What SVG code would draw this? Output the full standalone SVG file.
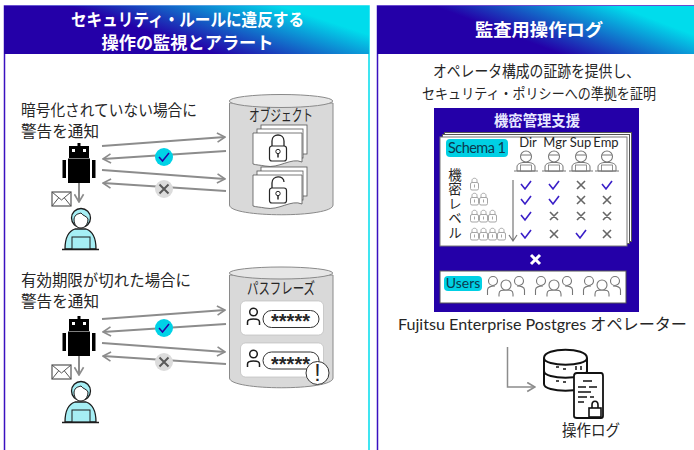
<svg xmlns="http://www.w3.org/2000/svg" width="694" height="450" viewBox="0 0 694 450">
<style>
text{font-family:"Noto Sans CJK JP","Noto Sans",sans-serif;fill:#262626}
.hd{font-size:17.500px;font-weight:700;fill:#fff;text-anchor:middle}
.t{font-size:15.500px}
.m{text-anchor:middle}
.lat{font-family:"Lato","Noto Sans CJK JP",sans-serif}
.conn{fill:none;stroke:#8c8c8c;stroke-width:2}
.lk{fill:#fff;stroke:#262626;stroke-width:1.2}
.glk{fill:#fff;stroke:#a6a6a6;stroke-width:1}
.pg{fill:#fff;stroke:#555;stroke-width:.8}
.ck{fill:none;stroke:#3a1fc8;stroke-width:1.6}
.xx{fill:none;stroke:#666;stroke-width:1.6}
.gp{fill:#fff;stroke:#777;stroke-width:1.1}
.star{font-family:"Liberation Sans",sans-serif;font-size:20px;font-weight:700;text-anchor:middle}
</style>
<defs>
<linearGradient id="hg" x1="0" y1="1" x2="1" y2="0.6"><stop offset="0" stop-color="#2400a8"/><stop offset="0.5" stop-color="#2400a8"/><stop offset="1" stop-color="#00dcec"/></linearGradient>
<linearGradient id="bl" gradientUnits="userSpaceOnUse" x1="4" y1="0" x2="369" y2="0"><stop offset="0" stop-color="#3a10c0"/><stop offset="1" stop-color="#00dcec"/></linearGradient>
<marker id="ah" viewBox="0 0 12 12" refX="10.500" refY="6" markerWidth="11" markerHeight="11" markerUnits="userSpaceOnUse" orient="auto"><path d="M2 1L10.500 6L2 11" fill="none" stroke="#8c8c8c" stroke-width="1.800"/></marker>
<g id="robot">
<rect x="77.500" y="143" width="3" height="4" fill="#000"/>
<rect x="69" y="146" width="20" height="12" fill="#000"/>
<rect x="72" y="149" width="3" height="3" fill="#fff"/><rect x="83" y="149" width="3" height="3" fill="#fff"/>
<rect x="68" y="158.500" width="22" height="24.500" fill="#000"/>
<rect x="62.500" y="160" width="3.500" height="18" fill="#000"/><rect x="92" y="160" width="3.500" height="18" fill="#000"/>
</g>
<g id="mail"><rect x="52" y="192" width="19" height="14" fill="#fff" stroke="#555" stroke-width="1.200"/><path d="M52 192L61.500 200L71 192M52 206L58.500 198M71 206L64.500 198" fill="none" stroke="#555"/></g>
<g id="op">
<path d="M65 249C65 236 69 231 75 229L86 229C92 231 96 236 96 249Z" fill="#a6eef4" stroke="#1c1c1c" stroke-width="1.300"/>
<circle cx="81" cy="218" r="9.500" fill="#a6eef4" stroke="#1c1c1c" stroke-width="1.300"/>
<path d="M74 219C75 214 78 214 81 213C83 216 87 216 88 219C88 225 84 228 81 228C77 228 74 225 74 219Z" fill="#fff" stroke="#1c1c1c"/>
<rect x="72" y="237" width="18" height="12" fill="#a6eef4" stroke="#1c1c1c"/>
<path d="M62 249.500H99" stroke="#1c1c1c" stroke-width="1.500"/>
</g>
<g id="ok"><circle r="9" fill="#00d2e6"/><path d="M-5 0L-1.500 4L5 -4" fill="none" stroke="#2400a8" stroke-width="1.500"/></g>
<g id="ng"><circle r="9" fill="#dcdcdc"/><path d="M-4.500 -4.500L4.500 4.500M4.500 -4.500L-4.500 4.500" fill="none" stroke="#595959" stroke-width="2"/></g>
<g id="doc">
<rect x="8" y="-8" width="46" height="29" class="pg"/><rect x="4" y="-4" width="46" height="29" class="pg"/>
<path d="M0 0H49V29C38 24 26 36 12 33C7 32 3 32 0 31Z" class="pg"/>
</g>
<g id="lockc"><path d="M-6 -3V-8C-6 -16 6 -16 6 -8V-3" fill="none" stroke="#262626" stroke-width="1.300"/><rect x="-8.500" y="-3" width="17" height="15" rx="2.500" class="lk"/><circle cy="2.500" r="2.200" fill="none" stroke="#262626"/><path d="M0 4.500V8.500" stroke="#262626" stroke-width="1.500"/></g>
<g id="locko"><path d="M-6 -3V-8C-6 -16 6 -16 6 -9" fill="none" stroke="#262626" stroke-width="1.300"/><rect x="-8.500" y="-3" width="17" height="15" rx="2.500" class="lk"/><circle cy="2.500" r="2.200" fill="none" stroke="#262626"/><path d="M0 4.500V8.500" stroke="#262626" stroke-width="1.500"/></g>
<g id="usr"><circle cx="0" cy="-5" r="3.800" fill="none" stroke="#1c1c1c" stroke-width="1.500"/><path d="M-6 8V5C-6 1 6 1 6 5V8" fill="none" stroke="#1c1c1c" stroke-width="1.500"/></g>
<g id="gl"><path d="M-2.500 -1.500V-3.500C-2.500 -6.500 2.500 -6.500 2.500 -3.500V-1.500" fill="none" stroke="#a6a6a6"/><rect x="-4" y="-1.500" width="8" height="7.500" rx="1.500" class="glk"/><path d="M0 0.500V3.500" stroke="#a6a6a6"/></g>
<g id="cp">
<path d="M-9 21V17C-9 14 -6 13 -3 12.500H3C6 13 9 14 9 17V21Z" fill="#fff" stroke="#777" stroke-width="1"/>
<circle cy="6.500" r="5.500" fill="#fff" stroke="#777" stroke-width="1.100"/>
<path d="M-5 5H5" stroke="#777"/>
<rect x="-5.500" y="15" width="11" height="6" fill="#fff" stroke="#777" stroke-width=".8"/>
<path d="M-12 21H12" stroke="#777"/>
</g>
<g id="crowd">
<g class="gp"><circle cx="-13" cy="-6" r="4.500"/><circle cx="13" cy="-6" r="4.500"/><path fill="none" d="M-18.500 8V3C-18.500 0 -15 -1 -11 -1M18.500 8V3C18.500 0 15 -1 11 -1"/><path d="M-7 9.500V7C-7 3 -4 3 0 3C4 3 7 3 7 7V9.500"/><circle cx="0" cy="-2" r="5"/></g>
</g>
</defs>

<g id="panel-left">
<rect x="4.500" y="6" width="364.500" height="460" fill="#fff" stroke="url(#bl)" stroke-width="1.500"/>
<rect x="4" y="6" width="365" height="48" fill="url(#hg)"/>
<text class="hd" x="187.500" y="26" textLength="233" lengthAdjust="spacingAndGlyphs">セキュリティ・ルールに違反する</text>
<text class="hd" x="187.500" y="49" textLength="172" lengthAdjust="spacingAndGlyphs">操作の監視とアラート</text>
</g>
<g id="panel-right">
<rect x="377.500" y="6" width="330" height="460" fill="#fff" stroke="#3a10c0" stroke-width="1.500"/>
<rect x="377" y="6" width="317" height="48" fill="url(#hg)"/>
<text class="hd" x="539" y="36" textLength="128" lengthAdjust="spacingAndGlyphs">監査用操作ログ</text>
<text class="t m" x="536.500" y="77" textLength="207" lengthAdjust="spacingAndGlyphs">オペレータ構成の証跡を提供し、</text>
<text class="m" x="539" y="99" font-size="14.500" textLength="234" lengthAdjust="spacingAndGlyphs">セキュリティ・ポリシーへの準拠を証明</text>
</g>
<g id="label-encrypt">
<text class="t" x="21" y="116" textLength="176" lengthAdjust="spacingAndGlyphs">暗号化されていない場合に</text>
<text class="t" x="21" y="137" textLength="78" lengthAdjust="spacingAndGlyphs">警告を通知</text>
</g>
<g id="db-objects">
<path d="M229.500 103V205C229.500 218 333 218 333 205V103Z" fill="#d9d9d9" stroke="#8a8a8a"/>
<ellipse cx="281" cy="101" rx="51.700" ry="6.500" fill="#e6e6e6" stroke="#8a8a8a"/>
<text class="m" x="281" y="121" font-size="15.500" textLength="64" lengthAdjust="spacingAndGlyphs">オブジェクト</text>
<use href="#doc" x="253" y="133"/><use href="#lockc" x="278" y="149"/>
<use href="#doc" x="253" y="175"/><use href="#locko" x="278" y="191"/>
</g>
<g id="robot-1"><use href="#robot"/></g>
<g id="mail-1"><use href="#mail"/></g>
<g id="operator-1"><use href="#op"/></g>

<g id="label-expiry">
<text class="t" x="21" y="286" textLength="170" lengthAdjust="spacingAndGlyphs">有効期限が切れた場合に</text>
<text class="t" x="21" y="307" textLength="78" lengthAdjust="spacingAndGlyphs">警告を通知</text>
</g>
<g id="db-pass">
<path d="M229.500 275V378C229.500 391 333 391 333 378V275Z" fill="#d9d9d9" stroke="#8a8a8a"/>
<ellipse cx="281" cy="273" rx="51.700" ry="6" fill="#e6e6e6" stroke="#8a8a8a"/>
<text class="m" x="281" y="294" font-size="15.500" textLength="68" lengthAdjust="spacingAndGlyphs">パスフレーズ</text>
<rect x="240.500" y="301" width="83" height="34" rx="5" fill="#fff" stroke="#bbb" stroke-width=".7"/>
<use href="#usr" x="253.500" y="317"/>
<rect x="263" y="310.500" width="56" height="17" rx="8.500" fill="#fff" stroke="#333"/>
<text class="star" x="290.500" y="328">*****</text>
<rect x="240.500" y="343" width="83" height="34" rx="5" fill="#fff" stroke="#bbb" stroke-width=".7"/>
<use href="#usr" x="253.500" y="359"/>
<rect x="263" y="352" width="56" height="17" rx="8.500" fill="#fff" stroke="#333"/>
<text class="star" x="290.500" y="371">*****</text>
<circle cx="317.500" cy="373" r="11.500" fill="#fff" stroke="#333"/>
<text class="m" x="317.500" y="381" font-size="23" style="font-family:'Liberation Sans',sans-serif">!</text>
</g>
<g id="robot-2"><use href="#robot" y="173"/></g>
<g id="mail-2"><use href="#mail" y="173"/></g>
<g id="operator-2"><use href="#op" y="173"/></g>

<g id="connectors">
<path class="conn" marker-end="url(#ah)" d="M102 146L225 137"/>
<path class="conn" marker-end="url(#ah)" d="M226 151L103 159"/>
<path class="conn" marker-end="url(#ah)" d="M102 170L225 179"/>
<path class="conn" marker-end="url(#ah)" d="M226 191L103 183"/>
<path class="conn" marker-end="url(#ah)" d="M79 183V202"/>
<path class="conn" marker-end="url(#ah)" d="M102 319L225 310"/>
<path class="conn" marker-end="url(#ah)" d="M226 324L103 332"/>
<path class="conn" marker-end="url(#ah)" d="M102 343L225 352"/>
<path class="conn" marker-end="url(#ah)" d="M226 364L103 356"/>
<path class="conn" marker-end="url(#ah)" d="M79 356V375"/>
<path class="conn" marker-end="url(#ah)" d="M507.500 347V387H535" style="stroke-width:1.500"/>
</g>
<g id="status-1"><use href="#ok" x="164" y="157"/><use href="#ng" x="164" y="189"/></g>
<g id="status-2"><use href="#ok" x="164" y="328"/><use href="#ng" x="164" y="362"/></g>

<g id="matrix">
<rect x="434" y="108" width="205" height="204" fill="#2400a8"/>
<text class="m" x="537" y="126" font-size="14.500" font-weight="700" style="fill:#e8e8ff" textLength="86" lengthAdjust="spacingAndGlyphs">機密管理支援</text>
<rect x="444.500" y="132.500" width="187" height="109" fill="#fff" stroke="#555"/>
<rect x="442.500" y="134.500" width="187" height="109" fill="#fff" stroke="#555"/>
<rect x="440" y="137" width="187" height="109" fill="#fff" stroke="#777"/>
<rect x="446" y="139" width="62" height="18" rx="4" fill="#00d0e4"/>
<text class="lat" x="448" y="153" font-size="14.500" style="fill:#0b3a50" textLength="58" lengthAdjust="spacing">Schema 1</text>
<g font-size="13" text-anchor="middle"><text class="lat" x="528" y="147">Dir</text><text class="lat" x="555" y="147">Mgr</text><text class="lat" x="580.500" y="147">Sup</text><text class="lat" x="606" y="147">Emp</text></g>
<use href="#cp" x="526" y="150"/><use href="#cp" x="554" y="150"/><use href="#cp" x="581" y="150"/><use href="#cp" x="607" y="150"/>
<text font-size="13.500" x="455" y="168" letter-spacing="1" style="writing-mode:vertical-rl">機密レベル</text>
<use href="#gl" x="474.500" y="184"/>
<use href="#gl" x="474.500" y="199"/><use href="#gl" x="483.500" y="199"/>
<use href="#gl" x="474.500" y="216"/><use href="#gl" x="483.500" y="216"/><use href="#gl" x="492.500" y="216"/>
<use href="#gl" x="474.500" y="234"/><use href="#gl" x="483.500" y="234"/><use href="#gl" x="492.500" y="234"/><use href="#gl" x="501.500" y="234"/>
<path d="M513 180V240M509 235L513 241L517 235" fill="none" stroke="#777" stroke-width="1.200"/>
<g>
<path class="ck" d="M521 184L525 189L531 181M549 184L553 189L559 181M602 184L606 189L612 181"/>
<path class="ck" d="M521 199L525 204L531 196M549 199L553 204L559 196"/>
<path class="ck" d="M521 215L525 220L531 212"/>
<path class="ck" d="M521 233L525 238L531 230M576 233L580 238L586 230"/>
<path class="xx" d="M577 181L585 189M585 181L577 189M577 196L585 204M585 196L577 204M603 196L611 204M611 196L603 204"/>
<path class="xx" d="M550 212L558 220M558 212L550 220M577 212L585 220M585 212L577 220M603 212L611 220M611 212L603 220"/>
<path class="xx" d="M550 230L558 238M558 230L550 238M603 230L611 238M611 230L603 238"/>
</g>
<path d="M531 255L540 264M540 255L531 264" stroke="#fff" stroke-width="3" fill="none"/>
<rect x="440" y="271" width="186" height="32" fill="#fff" stroke="#555"/>
<rect x="444" y="276" width="38" height="15" rx="4" fill="#00d0e4"/>
<text class="lat" x="463" y="288" font-size="14" text-anchor="middle" style="fill:#0b3a50">Users</text>
<use href="#crowd" x="506" y="287"/><use href="#crowd" x="554" y="287"/><use href="#crowd" x="602" y="287"/>
</g>
<g id="fep-label"><text class="lat" x="398" y="330" font-size="16" textLength="289" lengthAdjust="spacingAndGlyphs">Fujitsu Enterprise Postgres オペレーター</text></g>
<g id="audit-log">
<path d="M544 358C544 347 587 347 587 358V384C587 393 544 393 544 384Z" fill="#fff" stroke="#111" stroke-width="2"/>
<path d="M544 358C544 367 587 367 587 358M544 371C544 380 587 380 587 371" fill="none" stroke="#111" stroke-width="2"/>
<path d="M556 367H559M563 369H566M576 366V370M581 366V370M556 381H559M563 382H566" stroke="#111" stroke-width="1.500"/>
<path d="M574 376Q574 373 577 373H601Q603 373 603 376V416Q603 418 601 418H577Q574 418 574 416Z" fill="#fff" stroke="#111" stroke-width="1.800"/>
<path d="M583 381H592M578 387H586M589 387H597M578 392H591M578 397H587M590 397H594M578 402H584" stroke="#111" stroke-width="1.300"/>
<rect x="589" y="408" width="12" height="9" fill="#fff" stroke="#111" stroke-width="1.600"/>
<path d="M592 408V405C592 400 598 400 598 405V408" fill="none" stroke="#111" stroke-width="1.600"/>
<text class="m" x="591" y="436" font-size="15.500" textLength="58" lengthAdjust="spacingAndGlyphs">操作ログ</text>
</g>
</svg>
